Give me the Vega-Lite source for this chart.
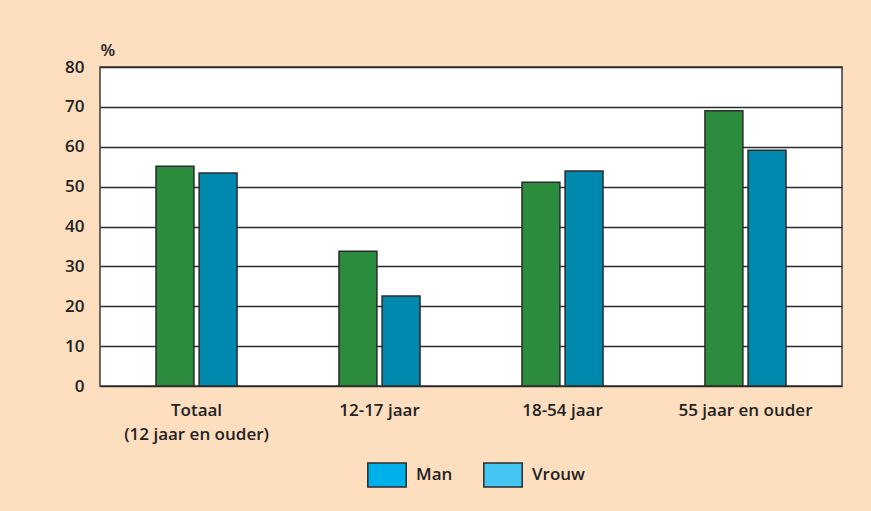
{
  "$schema": "https://vega.github.io/schema/vega-lite/v6.json",
  "width": 742,
  "height": 319,
  "autosize": {"type": "none"},
  "padding": {"left": 100, "top": 67, "right": 29, "bottom": 125},
  "background": "#fddfc0",
  "config": {
    "view": {"fill": "white", "stroke": "#3a3a3a", "strokeWidth": 1.5},
    "font": "Open Sans"
  },
  "data": {
    "values": [
      {"groep": "Totaal (12 jaar en ouder)", "geslacht": "Man", "waarde": 55.1},
      {"groep": "Totaal (12 jaar en ouder)", "geslacht": "Vrouw", "waarde": 53.4},
      {"groep": "12-17 jaar", "geslacht": "Man", "waarde": 33.8},
      {"groep": "12-17 jaar", "geslacht": "Vrouw", "waarde": 22.6},
      {"groep": "18-54 jaar", "geslacht": "Man", "waarde": 51.1},
      {"groep": "18-54 jaar", "geslacht": "Vrouw", "waarde": 53.9},
      {"groep": "55 jaar en ouder", "geslacht": "Man", "waarde": 69.0},
      {"groep": "55 jaar en ouder", "geslacht": "Vrouw", "waarde": 59.1}
    ]
  },
  "encoding": {
    "x": {
      "field": "groep", "type": "nominal", "sort": null,
      "scale": {"paddingInner": 0.557, "paddingOuter": 0.306},
      "axis": {
        "title": null, "domain": false, "ticks": false, "labelAngle": 0,
        "labelPadding": 16, "labelFontSize": 17, "labelFontWeight": 600,
        "labelColor": "#222", "labelLineHeight": 24, "labelBaseline": "top",
        "labelExpr": "datum.value == 'Totaal (12 jaar en ouder)' ? ['Totaal', '(12 jaar en ouder)'] : datum.label"
      }
    },
    "xOffset": {"field": "geslacht", "sort": null, "scale": {"paddingInner": 0.12}},
    "y": {
      "field": "waarde", "type": "quantitative",
      "scale": {"domain": [0, 80]},
      "axis": {
        "values": [0, 10, 20, 30, 40, 50, 60, 70, 80], "labelOverlap": false,
        "grid": true, "gridColor": "#2b2b2b", "gridWidth": 1.5, "gridOpacity": 1,
        "domain": false, "ticks": false, "labelPadding": 16,
        "labelFontSize": 17, "labelFontWeight": 600, "labelColor": "#222",
        "title": "%", "titleAngle": 0, "titleAlign": "left", "titleX": 0, "titleY": -12,
        "titleBaseline": "alphabetic", "titleFontSize": 17, "titleFontWeight": 600, "titleColor": "#222"
      }
    }
  },
  "layer": [
    {
      "mark": {"type": "bar", "stroke": "#2b2b2b", "strokeWidth": 1.5},
      "encoding": {
        "fill": {
          "field": "geslacht", "type": "nominal",
          "scale": {"domain": ["Man", "Vrouw"], "range": ["#2a8c3c", "#0089ae"]},
          "legend": null
        }
      }
    },
    {
      "mark": {"type": "square", "opacity": 0, "filled": true},
      "encoding": {
        "fill": {
          "field": "geslacht", "type": "nominal",
          "scale": {"domain": ["Man", "Vrouw"], "range": ["#00b0ea", "#45c6f2"]},
          "legend": {
            "title": null, "orient": "none", "direction": "horizontal",
            "legendX": 274, "legendY": 395,
            "symbolType": "M-1.6,-1L1.6,-1L1.6,1L-1.6,1Z", "symbolSize": 576,
            "symbolOpacity": 1, "symbolStrokeColor": "#2b2b2b", "symbolStrokeWidth": 1.5,
            "labelFontSize": 17, "labelFontWeight": 600, "labelColor": "#222",
            "labelOffset": 16, "columnPadding": 27
          }
        }
      }
    }
  ],
  "resolve": {"scale": {"fill": "independent"}, "legend": {"fill": "independent"}}
}
